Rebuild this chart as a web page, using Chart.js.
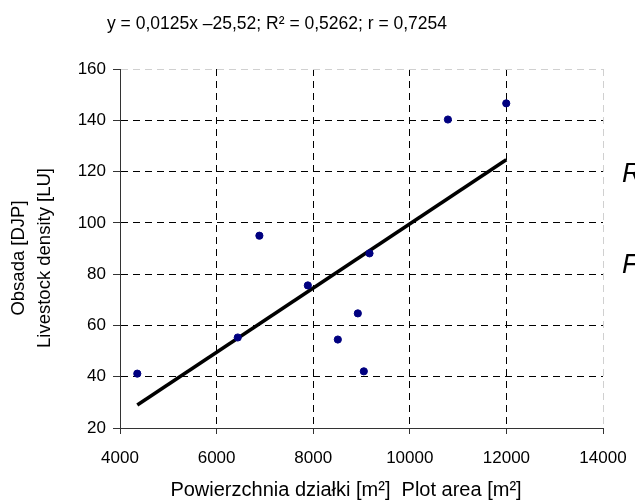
<!DOCTYPE html>
<html>
<head>
<meta charset="utf-8">
<script src="https://cdn.jsdelivr.net/npm/chart.js@4.4.1/dist/chart.umd.min.js"></script>
<style>
  body { margin: 0; background: #fff; }
  #wrap { width: 635px; height: 502px; }
</style>
</head>
<body>
<div id="wrap"><canvas id="scatter" width="635" height="502"></canvas></div>
<script>
// dane: powierzchnia działki [m2] i obsada [DJP]
const plotArea = [4358, 6438, 6886, 7889, 8510, 8924, 9048, 9166, 10789, 11997];
const livestock = [41.2, 55.3, 95, 75.6, 54.5, 64.7, 42.1, 88.1, 140.3, 146.6];
// linia trendu
const trendX = [4358, 11997];
const trendY = [29.0, 124.6];
// osie
const xTicks = [4000, 6000, 8000, 10000, 12000, 14000];
const yTicks = [20, 40, 60, 80, 100, 120, 140, 160];

const chartTitle = 'y = 0,0125x –25,52; R² = 0,5262; r = 0,7254';
const xTitle = 'Powierzchnia działki [m²]  Plot area [m²]';
const yTitle = ['Obsada [DJP]', 'Livestock density [LU]'];
const sideLabels = ['R', 'F'];

const FONT = '"Liberation Sans", Arial, sans-serif';

// napisy rysowane ręcznie
const textPlugin = {
    id: 'texts',
    afterDraw(chart) {
        const c = chart.ctx;
        c.save();
        c.fillStyle = '#000';
        c.textAlign = 'center';
        c.textBaseline = 'middle';
        c.font = '17.5px ' + FONT;
        c.fillText(chartTitle, 277, 24);
        c.font = '20px ' + FONT;
        c.fillText(xTitle, 346, 490);
        // tytuł osi Y (obrócony)
        c.font = '18.5px ' + FONT;
        c.save();
        c.translate(19, 258);
        c.rotate(-Math.PI / 2);
        c.fillText(yTitle[0], 0, 0);
        c.fillText(yTitle[1], 0, 26);
        c.restore();
        // obcięte napisy z prawej
        c.textAlign = 'left';
        c.textBaseline = 'alphabetic';
        c.font = 'italic 27px ' + FONT;
        c.fillText(sideLabels[0], 622, 182);
        c.fillText(sideLabels[1], 622, 273);
        c.restore();
    }
};

const ctx = document.getElementById('scatter');
new Chart(ctx, {
    type: 'scatter',
    data: {
        datasets: [{
            label: 'Obsada',
            data: plotArea.map((x, i) => ({ x: x, y: livestock[i] })),
            backgroundColor: '#000080',
            borderColor: '#000080',
            pointRadius: 3.6,
            order: 1
        }, {
            label: 'Trend',
            type: 'line',
            data: trendX.map((x, i) => ({ x: x, y: trendY[i] })),
            borderColor: '#000',
            borderWidth: 3.5,
            pointRadius: 0,
            fill: false,
            order: 2
        }]
    },
    options: {
        responsive: false,
        animation: false,
        devicePixelRatio: 1,
        layout: { padding: { top: 69, right: 32, left: 0, bottom: 0 } },
        plugins: {
            legend: { display: false },
            tooltip: { enabled: false },
            title: { display: false }
        },
        scales: {
            x: {
                type: 'linear',
                min: 4000,
                max: 14000,
                afterBuildTicks: s => { s.ticks = xTicks.map(v => ({ value: v })); },
                afterFit: s => { s.height = 74; s.paddingLeft = 0; s.paddingRight = 0; },
                ticks: {
                    color: '#000',
                    padding: 14,
                    maxRotation: 0,
                    font: { family: FONT, size: 17 },
                    callback: v => String(v)
                },
                grid: {
                    color: c => (c.tick && c.tick.value === 14000) ? '#d0d0d0' : '#000',
                    lineWidth: 1,
                    tickLength: 6,
                    tickColor: '#333',
                    tickBorderDash: []
                },
                border: { display: true, color: '#333', width: 1, dash: [7, 5] }
            },
            y: {
                type: 'linear',
                min: 20,
                max: 160,
                afterBuildTicks: s => { s.ticks = yTicks.map(v => ({ value: v })); },
                afterFit: s => { s.width = 120; },
                ticks: {
                    color: '#000',
                    padding: 7,
                    font: { family: FONT, size: 17 },
                    callback: v => String(v)
                },
                grid: {
                    color: c => (c.tick && c.tick.value === 160) ? '#d0d0d0' : '#000',
                    lineWidth: 1,
                    tickLength: 7,
                    tickColor: '#333',
                    tickBorderDash: []
                },
                border: { display: true, color: '#333', width: 1, dash: [7, 5] }
            }
        }
    },
    plugins: [textPlugin]
});
</script>
</body>
</html>
